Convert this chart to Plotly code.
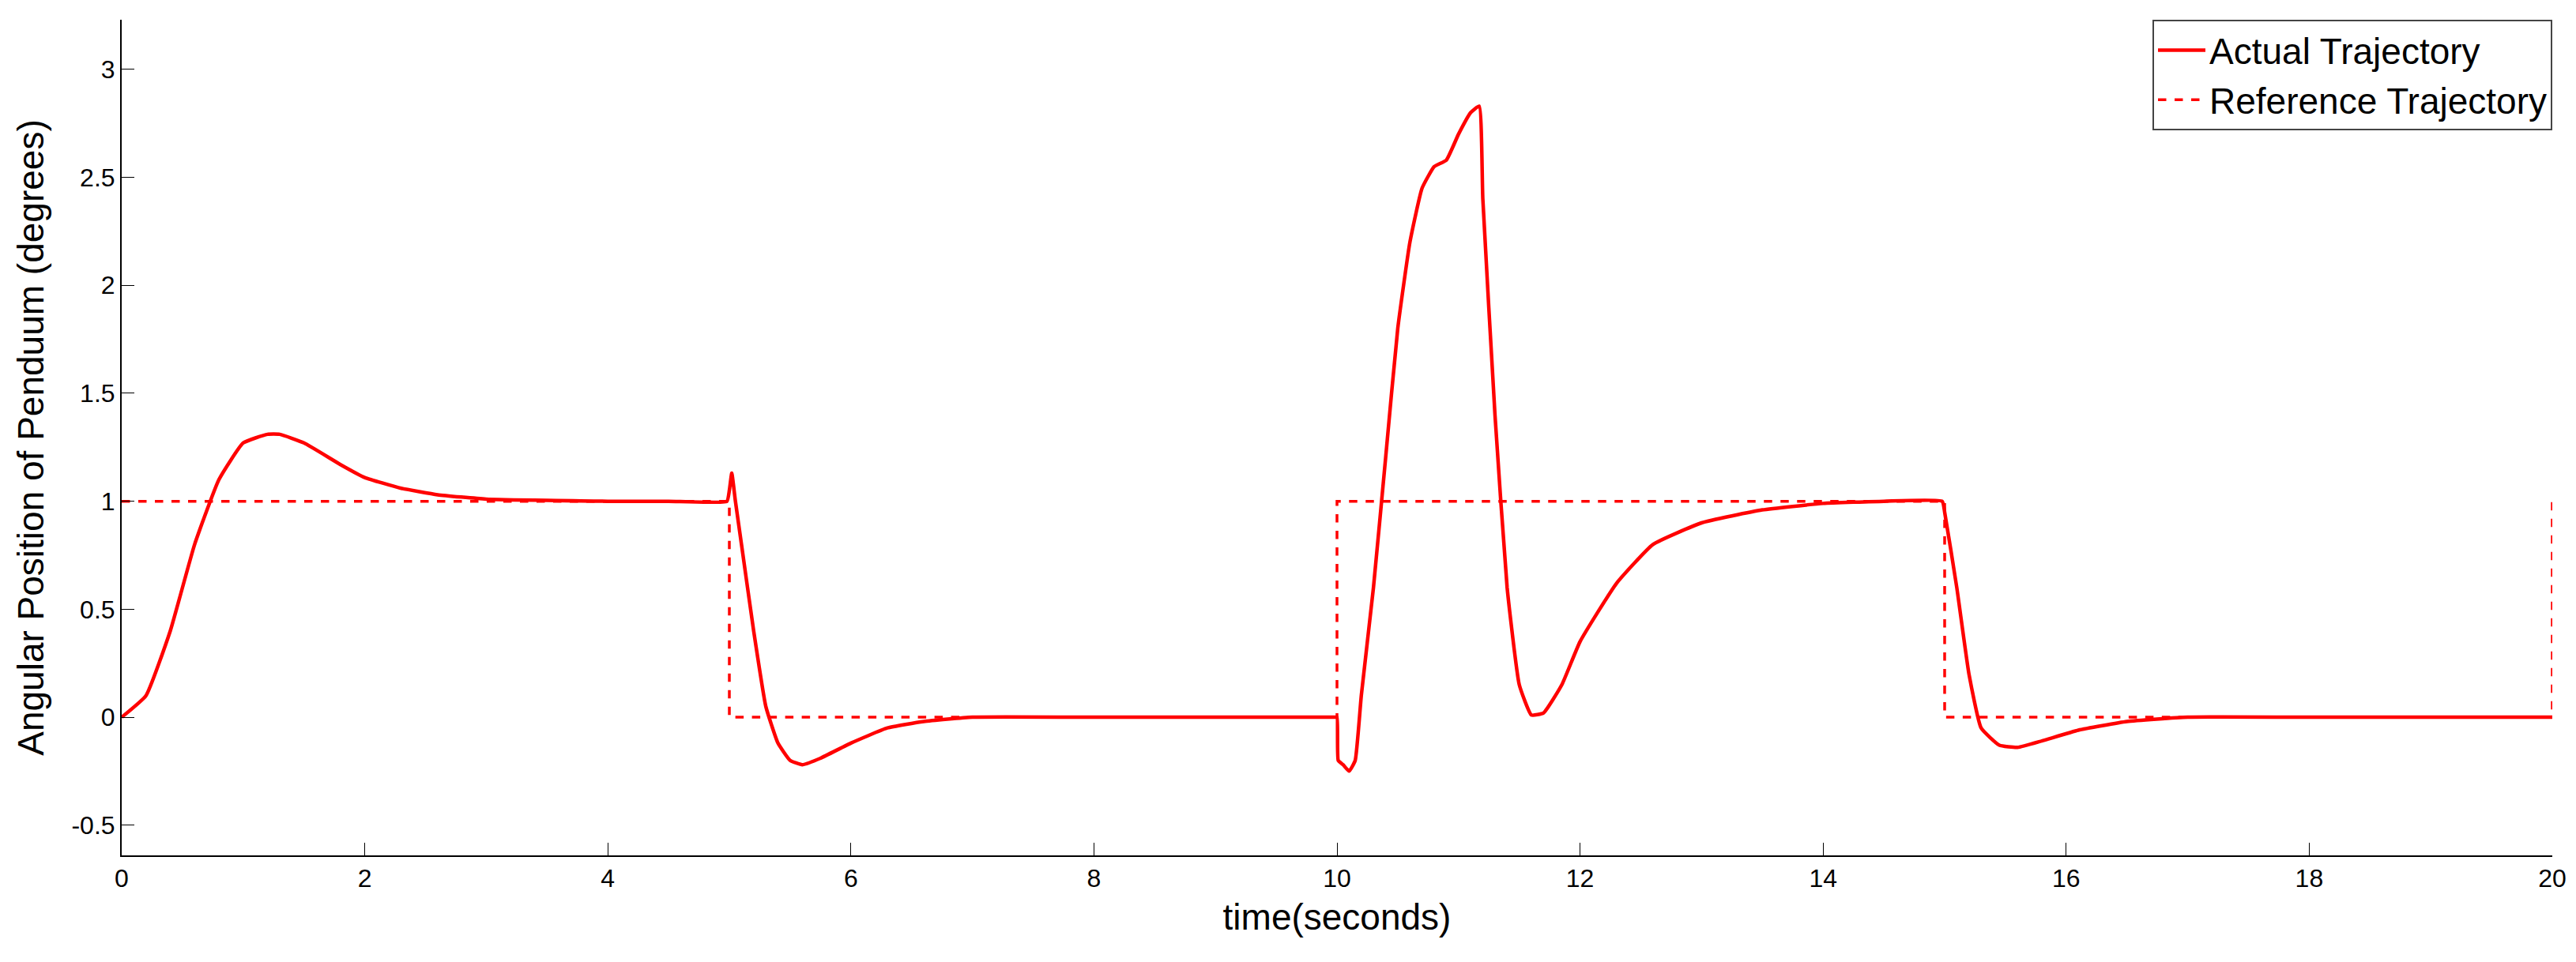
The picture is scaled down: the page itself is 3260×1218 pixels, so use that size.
import plotly.graph_objects as go

# actual pendulum angle
t_act = [0, 0.2, 0.4, 0.6, 0.8, 1.0, 1.2, 1.3, 1.5, 1.8, 2.0, 2.3, 2.6, 3.0, 4.0, 4.5, 4.98, 5.0, 5.02, 5.05,
         5.1, 5.2, 5.3, 5.4, 5.5, 5.6, 5.75, 6.0, 6.3, 6.6, 7.0, 8.0, 9.0, 9.98, 10.0, 10.01, 10.05, 10.1, 10.15, 10.2,
         10.3, 10.4, 10.5, 10.6, 10.7, 10.8, 10.9, 11.0, 11.1, 11.17, 11.2, 11.3, 11.4, 11.5, 11.6, 11.7,
         11.85, 12.0, 12.3, 12.6, 13.0, 13.5, 14.0, 14.5, 14.98, 15.0, 15.1, 15.2, 15.3, 15.45, 15.6, 15.8,
         16.1, 16.5, 17.0, 18.0, 19.0, 20.0]
y_act = [0, 0.1, 0.4, 0.8, 1.1, 1.27, 1.31, 1.31, 1.27, 1.17, 1.11, 1.06, 1.03, 1.01, 1.0, 1.0, 1.0, 1.05, 1.13, 1.0,
         0.8, 0.4, 0.05, -0.12, -0.2, -0.22, -0.19, -0.12, -0.05, -0.02, 0, 0, 0, 0, 0, -0.2, -0.22, -0.25, -0.2, 0.1,
         0.6, 1.2, 1.8, 2.2, 2.45, 2.55, 2.58, 2.7, 2.8, 2.83, 2.4, 1.4, 0.6, 0.15, 0.01, 0.02,
         0.15, 0.35, 0.62, 0.8, 0.9, 0.96, 0.99, 1.0, 1.0, 0.95, 0.6, 0.2, -0.05, -0.13, -0.14, -0.11,
         -0.06, -0.02, 0, 0, 0, 0]

# square wave reference
t_ref = [0, 5, 5, 10, 10, 15, 15, 20, 20]
y_ref = [1, 1, 0, 0, 1, 1, 0, 0, 1]

fig = go.Figure()
fig.add_trace(go.Scatter(x=t_act, y=y_act, mode='lines', name='Actual Trajectory',
                         line=dict(color='red', width=4.5, shape='spline', smoothing=0.4)))
fig.add_trace(go.Scatter(x=t_ref, y=y_ref, mode='lines', name='Reference Trajectory',
                         line=dict(color='red', width=3.5, dash='dash')))

axis_style = dict(showline=True, linecolor='black', linewidth=2, mirror=False, showgrid=False,
                  zeroline=False, ticks='inside', ticklen=16, tickcolor='black',
                  tickfont=dict(size=32, color='black'))
fig.update_xaxes(range=[0, 20], dtick=2, title=dict(text='time(seconds)', font=dict(size=46, color='black')),
                 **axis_style)
fig.update_yaxes(range=[-0.64, 3.23], tickvals=[-0.5, 0, 0.5, 1, 1.5, 2, 2.5, 3],
                 ticktext=['-0.5', '0', '0.5', '1', '1.5', '2', '2.5', '3'],
                 title=dict(text='Angular Position of Penduum (degrees)', font=dict(size=46, color='black'), standoff=20),
                 **axis_style)
fig.update_layout(
    width=3260, height=1218,
    font=dict(family='Liberation Sans, Arial, sans-serif'),
    plot_bgcolor='white', paper_bgcolor='white',
    margin=dict(l=146, r=38, t=17, b=143),
    legend=dict(x=1, y=1, xanchor='right', yanchor='top', bordercolor='#444', borderwidth=2,
                bgcolor='white', font=dict(size=46, color='black'), itemwidth=60),
)
fig.write_html("out.html")
